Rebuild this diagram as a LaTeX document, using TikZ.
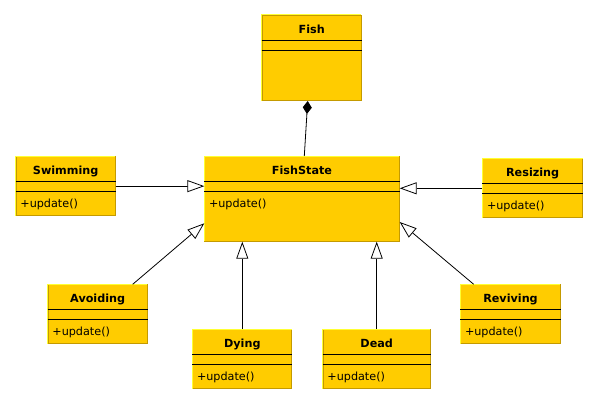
\documentclass[tikz,border=0pt]{standalone}
\usepackage{fontspec}
\setmainfont{DejaVu Sans}
\usetikzlibrary{arrows.meta}
\definecolor{boxfill}{HTML}{FFCC00}
\definecolor{boxdark}{HTML}{C49A00}
\definecolor{boxlight}{HTML}{FFFF33}
\tikzset{
  cls/.style={rectangle, fill=boxfill, draw=boxdark, line width=1pt, inner sep=0pt},
  hi/.style={draw=boxlight, line width=1pt},
  sepline/.style={draw=black, line width=0.9pt},
  ttl/.style={inner sep=0pt, font=\fontsize{11.2}{13}\selectfont\bfseries},
  mth/.style={inner sep=0pt, font=\fontsize{11.2}{13}\selectfont},
  gen/.style={draw=black, line width=0.8pt, -{Triangle[open, length=17pt, width=12pt, fill=white]}},
  comp/.style={draw=black, line width=0.8pt, -{Diamond[length=13pt, width=9pt, fill=black]}}
}
\newcommand\umlbox[7]{%
  \node[cls, minimum width=#4pt, minimum height=#5pt, anchor=north west] (#1) at (#2,#3) {};
  \draw[hi] ([yshift=0.5pt]#1.south west) -- (#1.north west) -- ([xshift=-0.5pt]#1.north east);
  \draw[sepline] ([yshift=-25.3pt]#1.north west) -- ([yshift=-25.3pt]#1.north east);
  \draw[sepline] ([yshift=-35.3pt]#1.north west) -- ([yshift=-35.3pt]#1.north east);
  \node[ttl, anchor=base] (#1-t) at ([yshift=-18.5pt]#1.north) {#6};
  \node[mth, anchor=base west] (#1-m) at ([xshift=4.5pt,yshift=-51.5pt]#1.north west) {#7};
}
\begin{document}
\begin{tikzpicture}[x=1pt, y=-1pt]
\useasboundingbox[fill=white] (0,0) rectangle (597,404);
\umlbox{fish}{261.7}{15}{99}{85}{Fish}{}
\umlbox{fs}{204.3}{156}{194.4}{84.7}{FishState}{+update()}
\umlbox{sw}{15.7}{156}{99}{59.3}{Swimming}{+update()}
\umlbox{rs}{482.3}{158.3}{99.7}{59}{Resizing}{+update()}
\umlbox{av}{47.7}{284.3}{99}{58.7}{Avoiding}{+update()}
\umlbox{rv}{460.3}{284.3}{99.4}{59}{Reviving}{+update()}
\umlbox{dy}{192.3}{329}{99}{59.3}{Dying}{+update()}
\umlbox{dd}{322.7}{329}{107}{59.3}{Dead}{+update()}
% composition
\draw[comp] ([xshift=100pt]fs.north west) -- ([xshift=46pt]fish.south west);
% generalizations
\draw[gen] (sw.east) -- (sw.east -| fs.west);
\draw[gen] (rs.west) -- (rs.west -| fs.east);
\draw[gen] ([xshift=85pt]av.north west) -- ([yshift=-67.3pt]fs.north west);
\draw[gen] ([xshift=13.4pt]rv.north west) -- ([yshift=-66pt]fs.north east);
\draw[gen] (dy.north) -- (dy.north |- fs.south);
\draw[gen] (dd.north) -- (dd.north |- fs.south);
\end{tikzpicture}
\end{document}
